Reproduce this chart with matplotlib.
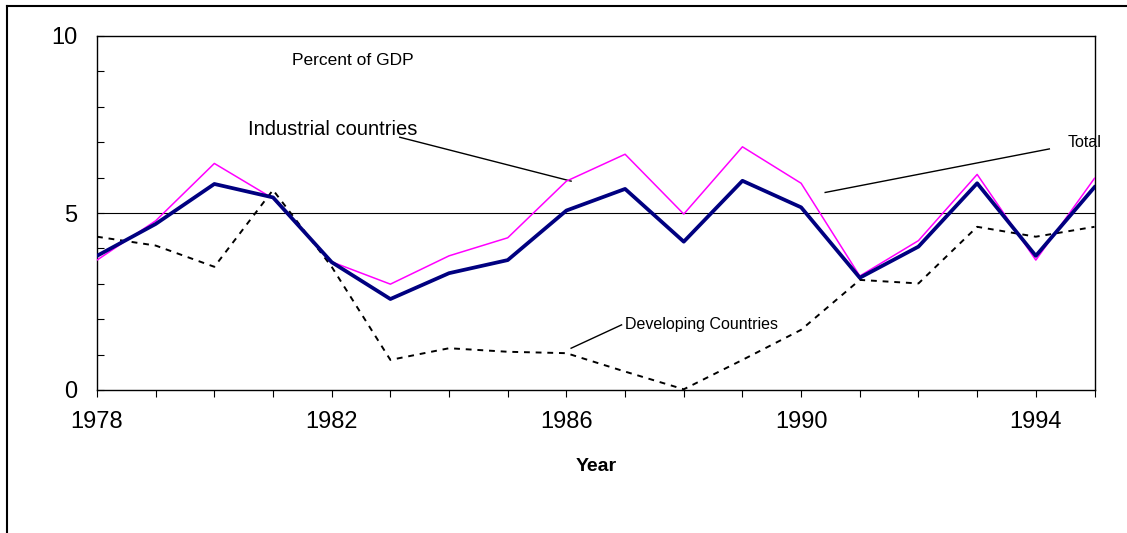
import numpy as np
import matplotlib
matplotlib.use('Agg')
import matplotlib.pyplot as plt
from matplotlib.lines import Line2D
from matplotlib.ticker import MultipleLocator, FixedLocator

plt.rcParams['font.family'] = ['Liberation Sans', 'DejaVu Sans']

years = np.arange(1978, 1996)
industrial = [3.79, 4.69, 5.82, 5.44, 3.61, 2.57, 3.30, 3.67, 5.07, 5.68,
              4.19, 5.91, 5.16, 3.17, 4.05, 5.84, 3.79, 5.73]
total = [3.67, 4.78, 6.40, 5.41, 3.62, 2.99, 3.79, 4.30, 5.90, 6.66,
         4.97, 6.87, 5.84, 3.22, 4.22, 6.09, 3.67, 5.98]
developing = [4.33, 4.08, 3.48, 5.65, 3.48, 0.85, 1.18, 1.08, 1.04, 0.52,
              0.02, 0.85, 1.70, 3.11, 3.01, 4.61, 4.33, 4.61]
year_labels = [1978, 1982, 1986, 1990, 1994]

fig = plt.figure(figsize=(11.27, 5.33), dpi=100)
ax = fig.add_axes([97 / 1127, 1 - 390 / 533, (1094.5 - 97) / 1127, (390 - 36) / 533])

ax.axhline(5, color='black', lw=0.8, zorder=1)
ax.plot(years, developing, color='black', lw=1.4, linestyle=(0, (3, 3)), zorder=2)
ax.plot(years, total, color='#ff00ff', lw=1.1, zorder=3)
ax.plot(years, industrial, color='#000080', lw=2.7, zorder=4)

ax.set_xlim(1978, 1995)
ax.set_ylim(0, 10)

ax.xaxis.set_major_locator(FixedLocator(year_labels))
ax.xaxis.set_minor_locator(MultipleLocator(1))
ax.yaxis.set_major_locator(FixedLocator([0, 5, 10]))
ax.yaxis.set_minor_locator(MultipleLocator(1))
ax.tick_params(axis='x', which='both', direction='out', length=5, width=0.8, pad=10, labelsize=17)
ax.tick_params(axis='y', which='both', direction='in', length=5, width=0.8, pad=14, labelsize=17)
for s in ax.spines.values():
    s.set_linewidth(1.0)

ax.set_xlabel('Year', fontsize=14, fontweight='bold', labelpad=18)

# annotations
ax.text(1981.32, 9.32, 'Percent of GDP', fontsize=12.5, ha='left', va='center')
ax.text(1980.57, 7.37, 'Industrial countries', fontsize=14.5, ha='left', va='center')
ax.plot([1983.16, 1986.08], [7.14, 5.90], color='black', lw=1.0)
ax.text(1994.55, 6.98, 'Total', fontsize=11.5, ha='left', va='center', clip_on=False)
ax.plot([1994.23, 1990.41], [6.81, 5.58], color='black', lw=1.0)
ax.text(1987.0, 1.86, 'Developing Countries', fontsize=11.5, ha='left', va='center')
ax.plot([1986.94, 1986.08], [1.84, 1.18], color='black', lw=1.0)

# outer frame (top and left edges visible)
fig.add_artist(Line2D([7 / 1127, 1], [1 - 6 / 533, 1 - 6 / 533], color='black', lw=1.5))
fig.add_artist(Line2D([7 / 1127, 7 / 1127], [0, 1 - 6 / 533], color='black', lw=1.5))

fig.savefig('out.png', dpi=100)
